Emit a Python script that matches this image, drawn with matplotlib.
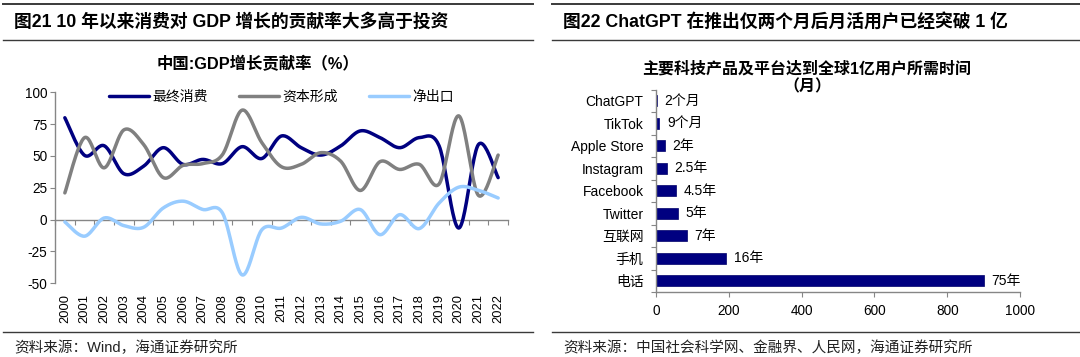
import numpy as np
import matplotlib
matplotlib.use("Agg")
import matplotlib.pyplot as plt
from matplotlib.lines import Line2D

plt.rcParams['font.family'] = ['Liberation Sans', 'Noto Sans CJK SC']
plt.rcParams['axes.unicode_minus'] = False

# ---------------- data: left chart ----------------
years = [str(y) for y in range(2000, 2023)]
consumption = [80, 50.5, 58, 36, 42, 56.5, 43.4, 47.3, 44, 57.3, 48, 65.7,
               56.5, 50.7, 57.8, 69.7, 64.4, 56.5, 64.4, 58, -6.6, 59, 33]
capital = [21, 64.4, 40.7, 70.5, 59, 33, 42.6, 44, 51, 86, 60.5, 41.5,
           43.4, 52.6, 46, 22.9, 45.5, 39.4, 43.4, 28, 81.5, 19, 50.7]
net_export = [-1.8, -13, 1.3, -4.7, -6, 9.2, 14.5, 8, 5.3, -43.4, -8, -6.6,
              1.8, -3.4, -1.3, 7.9, -11.8, 3.9, -7, 13, 25.5, 23, 17]
series_names = ['最终消费', '资本形成', '净出口']
y_ticks_left = [-50, -25, 0, 25, 50, 75, 100]

# ---------------- data: right chart ----------------
products = ['ChatGPT', 'TikTok', 'Apple Store', 'Instagram', 'Facebook',
            'Twitter', '互联网', '手机', '电话']
months = [2, 9, 24, 30, 54, 60, 84, 192, 900]
bar_labels = ['2个月', '9个月', '2年', '2.5年', '4.5年', '5年', '7年', '16年', '75年']
x_ticks_right = [0, 200, 400, 600, 800, 1000]

NAVY = '#000080'
GRAY = '#808080'
LBLUE = '#99CCFF'
AXC = '#868686'
W, H = 1080, 357


def smooth(x, y, n=24):
    pts = np.column_stack([x, y]).astype(float)
    P = np.vstack([pts[0], pts, pts[-1]])
    out = []
    t = np.linspace(0, 1, n)[:, None]
    for i in range(len(pts) - 1):
        p0, p1, p2, p3 = P[i], P[i + 1], P[i + 2], P[i + 3]
        c1 = p1 + (p2 - p0) / 6
        c2 = p2 - (p3 - p1) / 6
        seg = ((1 - t) ** 3) * p1 + 3 * ((1 - t) ** 2) * t * c1 + 3 * (1 - t) * t ** 2 * c2 + t ** 3 * p2
        out.append(seg if i == 0 else seg[1:])
    return np.vstack(out)


fig = plt.figure(figsize=(10.8, 3.57), dpi=100)


def fx(px):
    return px / W


def fy(py):
    return 1 - py / H


# ---------------- header / footer decoration ----------------
for (x0, x1) in [(3, 533), (552, 1080)]:
    for yy, lw in [(3.5, 1.4), (40, 1.0), (332, 1.0)]:
        fig.add_artist(Line2D([fx(x0), fx(x1)], [fy(yy), fy(yy)], color='#3a3a3a', lw=lw))

fig.text(fx(14), fy(21.5), '图21 10 年以来消费对 GDP 增长的贡献率大多高于投资',
         fontsize=12.8, fontweight='bold', va='center', ha='left')
fig.text(fx(563), fy(21.5), '图22 ChatGPT 在推出仅两个月后月活用户已经突破 1 亿',
         fontsize=12.8, fontweight='bold', va='center', ha='left')
fig.text(fx(14), fy(348), '资料来源：Wind，海通证券研究所', fontsize=10.5,
         va='center', ha='left', color='#222222')
fig.text(fx(563), fy(348), '资料来源：中国社会科学网、金融界、人民网，海通证券研究所',
         fontsize=10.5, va='center', ha='left', color='#222222')

# ---------------- left chart ----------------
ax = fig.add_axes([fx(55), fy(283.3), fx(508 - 55), (283.3 - 92.3) / H])
x = np.arange(len(years))
for vals, col, name in [(consumption, NAVY, series_names[0]),
                        (capital, GRAY, series_names[1]),
                        (net_export, LBLUE, series_names[2])]:
    c = smooth(x, vals)
    ax.plot(c[:, 0], c[:, 1], color=col, lw=2.5, label=name, solid_capstyle='round')

ax.set_xlim(-0.5, len(years) - 0.5)
ax.set_ylim(-50, 100)
ax.set_yticks(y_ticks_left)
ax.set_yticklabels([str(v) for v in y_ticks_left], fontsize=9.8)
ax.tick_params(axis='y', direction='out', length=3.5, width=0.8, color=AXC, pad=2)
ax.set_xticks(x)
ax.set_xticklabels(years, rotation=90, fontsize=9.3)
ax.tick_params(axis='x', length=0, pad=7.5)
for s in ['top', 'right', 'bottom']:
    ax.spines[s].set_visible(False)
ax.spines['left'].set_color(AXC)
ax.spines['left'].set_linewidth(1.0)

sec = ax.secondary_xaxis(50 / 150)
sec.set_xticks(np.arange(-0.5, len(years) + 0.5, 1.0))
sec.set_xticklabels([])
sec.tick_params(axis='x', direction='out', length=3.5, width=0.8, color=AXC)
sec.spines['bottom'].set_color(AXC)
sec.spines['bottom'].set_linewidth(1.0)

leg = ax.legend(ncol=3, loc='center', bbox_to_anchor=(0.5, 0.977), frameon=False,
                fontsize=10, handlelength=2.9, handletextpad=0.25, columnspacing=2.2,
                borderaxespad=0, borderpad=0)

fig.text(fx(258), fy(64), '中国:GDP增长贡献率（%）', fontsize=11.8, fontweight='bold',
         ha='center', va='center')

# ---------------- right chart ----------------
ax2 = fig.add_axes([fx(656), fy(292), fx(1020 - 656), (292 - 89.5) / H])
yy = np.arange(len(products))
bars = ax2.barh(yy, months, height=0.5, color=NAVY, edgecolor='#00006a', linewidth=0.5)
ax2.set_ylim(len(products) - 0.5, -0.5)
ax2.set_xlim(0, 1000)
ax2.set_xticks(x_ticks_right)
ax2.set_xticklabels([str(v) for v in x_ticks_right], fontsize=9.8)
ax2.tick_params(axis='x', direction='out', length=3.5, width=0.8, color=AXC, pad=5)
ax2.set_yticks(yy)
ax2.set_yticklabels(products, fontsize=10)
ax2.tick_params(axis='y', which='major', length=0, pad=9)
ax2.set_yticks(np.arange(-0.5, len(products) + 0.5, 1.0), minor=True)
ax2.tick_params(axis='y', which='minor', direction='out', length=3.5, width=0.8, color=AXC)
for s in ['top', 'right']:
    ax2.spines[s].set_visible(False)
for s in ['left', 'bottom']:
    ax2.spines[s].set_color(AXC)
    ax2.spines[s].set_linewidth(1.0)
for b, lab in zip(bars, bar_labels):
    ax2.annotate(lab, (b.get_width(), b.get_y() + b.get_height() / 2),
                 xytext=(5.5, 0), textcoords='offset points', ha='left', va='center',
                 fontsize=10)

fig.text(fx(807), fy(68), '主要科技产品及平台达到全球1亿用户所需时间', fontsize=11.5,
         fontweight='bold', ha='center', va='center')
fig.text(fx(807), fy(87), '（月）', fontsize=11.5, fontweight='bold', ha='center', va='center')

fig.savefig('out.png', dpi=100)
